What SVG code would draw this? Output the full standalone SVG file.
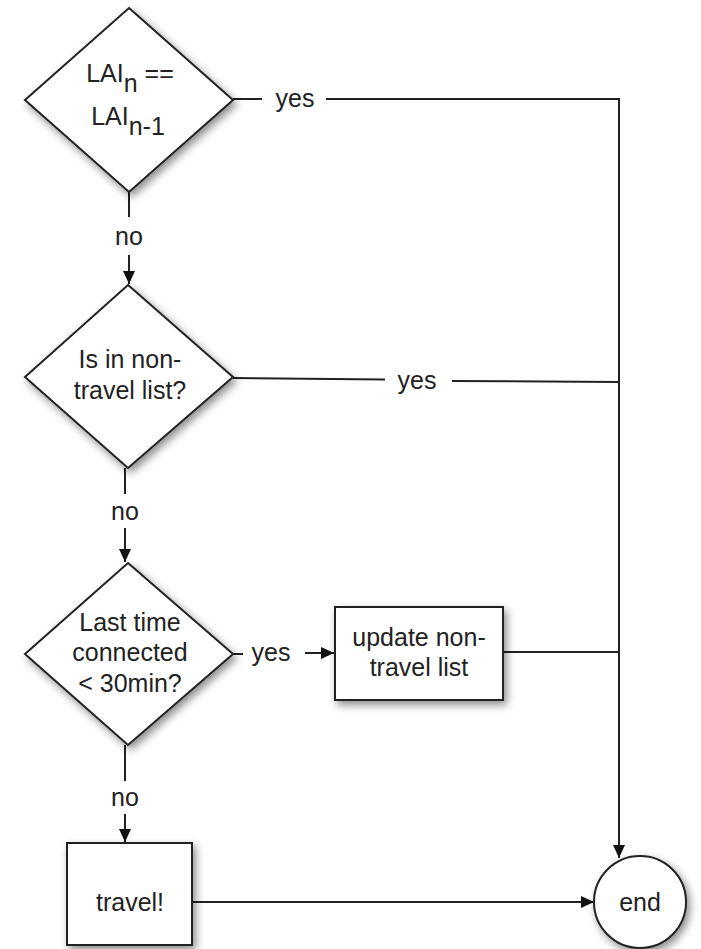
<svg xmlns="http://www.w3.org/2000/svg" width="701" height="949" viewBox="0 0 701 949">
<style>
.node{fill:#fff;stroke:#222;stroke-width:2;filter:url(#sh)}
.t{font-family:"Liberation Sans",Arial,sans-serif;font-size:25px;fill:#222;text-anchor:middle}
.c{fill:none;stroke:#222;stroke-width:2}
.a{marker-end:url(#ah)}
</style>
<defs>
<filter id="sh" x="-20%" y="-20%" width="150%" height="150%">
<feDropShadow dx="3" dy="4" stdDeviation="4" flood-color="#000" flood-opacity="0.45"/>
</filter>
<marker id="ah" markerWidth="13" markerHeight="12" refX="13" refY="6" orient="auto" markerUnits="userSpaceOnUse">
<path d="M0,0 L13,6 L0,12 z" fill="#111"/>
</marker>
</defs>
<rect width="701" height="949" fill="#fff"/>

<g id="connectors">
<path class="c" d="M233,99 H262"/>
<path class="c a" d="M326,99 H619 V858"/>
<path class="c" d="M129,192 V217"/>
<path class="c a" d="M129,255 V284"/>
<path class="c" d="M233,378 L385,379.5"/>
<path class="c" d="M452,381 L619,382"/>
<path class="c" d="M125,468 V494"/>
<path class="c a" d="M125,528 V562"/>
<path class="c" d="M233,654 H243"/>
<path class="c a" d="M305,653 H334"/>
<path class="c" d="M503,652 H619"/>
<path class="c" d="M125,745 V781"/>
<path class="c a" d="M125,814 V842"/>
<path class="c a" d="M192,902 H594"/>
<text class="t" x="295" y="107">yes</text>
<text class="t" x="417" y="389">yes</text>
<text class="t" x="271" y="661">yes</text>
<text class="t" x="129" y="245">no</text>
<text class="t" x="125" y="520">no</text>
<text class="t" x="125" y="806">no</text>
</g>

<g id="d1">
<polygon class="node" points="129,8 233,100 129,192 25,100"/>
<text class="t" x="130" y="82">LAI<tspan dy="10">n</tspan><tspan dy="-10"> ==</tspan></text>
<text class="t" x="128" y="125">LAI<tspan dy="10">n-1</tspan></text>
</g>

<g id="d2">
<polygon class="node" points="128,285 233,377 128,468 25,377"/>
<text class="t" x="130" y="368">Is in non-</text>
<text class="t" x="130" y="399">travel list?</text>
</g>

<g id="d3">
<polygon class="node" points="128,563 233,654 128,745 25,654"/>
<text class="t" x="130" y="631">Last time</text>
<text class="t" x="130" y="661">connected</text>
<text class="t" x="130" y="692">&lt; 30min?</text>
</g>

<g id="update">
<rect class="node" x="335" y="607" width="168" height="93"/>
<text class="t" x="419" y="646">update non-</text>
<text class="t" x="419" y="676">travel list</text>
</g>

<g id="travel">
<rect class="node" x="67" y="843" width="125" height="102"/>
<text class="t" x="130" y="911">travel!</text>
</g>

<g id="end">
<ellipse class="node" cx="640" cy="902" rx="46" ry="46"/>
<text class="t" x="640" y="911">end</text>
</g>
</svg>
